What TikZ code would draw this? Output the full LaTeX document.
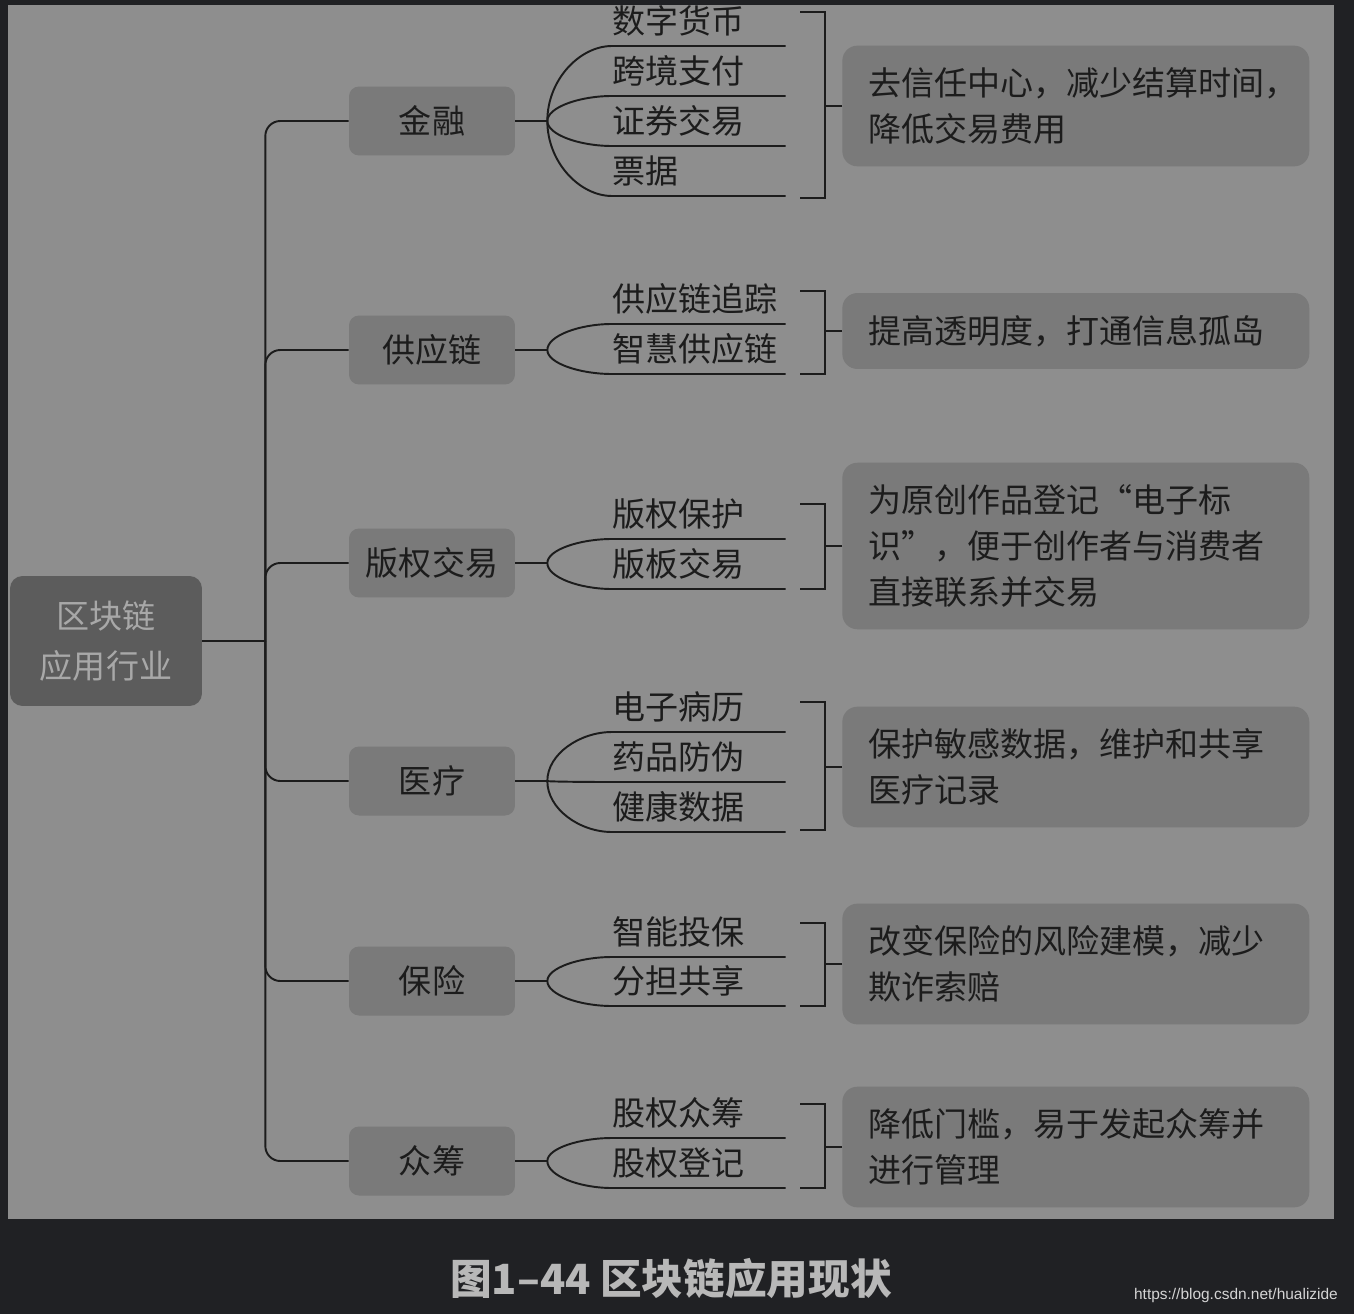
\documentclass[tikz,border=0pt]{standalone}
\usepackage{fontspec}
\setmainfont{Noto Sans CJK SC}
\newfontfamily\urlfont{Liberation Sans}
\usepackage{xcolor}
\usepackage{tikz}
\usetikzlibrary{calc}

\definecolor{pagebg}{HTML}{202124}
\definecolor{panelbg}{HTML}{8E8E8E}
\definecolor{boxfill}{HTML}{7A7A7A}
\definecolor{rootfill}{HTML}{5C5C5C}
\definecolor{roottext}{HTML}{A8A8A8}
\definecolor{ink}{HTML}{1C1C1C}
\definecolor{captext}{HTML}{B8B8B8}
\definecolor{urltext}{HTML}{D4D4D4}

\newcommand{\cnfont}{\fontsize{18.8pt}{26pt}\selectfont}

\tikzset{
  link/.style={draw=ink, line width=1.1pt},
  cat/.style={fill=boxfill, rounded corners=0.2cm, minimum width=3.32cm,
    minimum height=1.38cm, text=ink, font=\cnfont},
  leaf/.style={anchor=south west, inner xsep=0pt, inner ysep=5.5pt,
    text width=3.46cm, text=ink, font=\cnfont},
  desc/.style={anchor=west, fill=boxfill, rounded corners=0.3cm, align=left,
    text width=8.3cm, inner xsep=0.52cm, inner ysep=12.6pt, text=ink, font=\cnfont}
}

\begin{document}
\begin{tikzpicture}[x=0.02cm, y=-0.02cm]
        % page and panel
        \fill[pagebg] (0,0) rectangle (1354,1314);
        \useasboundingbox (0,0) rectangle (1354,1314);
        \fill[panelbg] (8,5) rectangle (1334,1219);

        % root and trunk
        \node[fill=rootfill, rounded corners=0.25cm, minimum width=3.84cm, minimum height=2.6cm,
          align=center, text=roottext, font=\fontsize{18.8pt}{28.5pt}\selectfont]
          (root) at (106,641) {区块链\\应用行业};
        \coordinate (hub) at ([xshift=1.26cm]root.east);
        \draw[link] (root) -- (hub);

        % industries
        \node[cat] (jr) at (432,121) {金融};
        \node[cat] (gy) at (432,350) {供应链};
        \node[cat] (bq) at (432,563) {版权交易};
        \node[cat] (yl) at (432,781) {医疗};
        \node[cat] (bx) at (432,981) {保险};
        \node[cat] (zc) at (432,1161) {众筹};
        \foreach \c in {jr,gy,bq,yl,bx,zc} {
            \draw[link, rounded corners=0.3cm] (hub) |- (\c.west);
            \coordinate (\c f) at ([xshift=0.64cm]\c.east);
            \draw[link] (\c.east) -- (\c f);
        }

        % leaves
        \foreach \t [count=\i] in {数字货币,跨境支付,证券交易,票据}
            \node[leaf] (jr\i) at (612,{46+50*(\i-1)}) {\t};
        \foreach \t [count=\i] in {供应链追踪,智慧供应链}
            \node[leaf] (gy\i) at (612,{324+50*(\i-1)}) {\t};
        \foreach \t [count=\i] in {版权保护,版板交易}
            \node[leaf] (bq\i) at (612,{539+50*(\i-1)}) {\t};
        \foreach \t [count=\i] in {电子病历,药品防伪,健康数据}
            \node[leaf] (yl\i) at (612,{732+50*(\i-1)}) {\t};
        \foreach \t [count=\i] in {智能投保,分担共享}
            \node[leaf] (bx\i) at (612,{957+49*(\i-1)}) {\t};
        \foreach \t [count=\i] in {股权众筹,股权登记}
            \node[leaf] (zc\i) at (612,{1138+50*(\i-1)}) {\t};
        \foreach \c/\n in {jr/4,gy/2,bq/2,yl/3,bx/2,zc/2} {
            \foreach \i in {1,...,\n}
                \draw[link] (\c f) .. controls ($(\c f)!0.55!(\c f |- \c\i.south west)$)
                  and ($(\c\i.south west)!0.5!(\c f |- \c\i.south west)$) .. (\c\i.south west)
                  -- (\c\i.south east);
        }

        % descriptions
        \node[desc] (jrd) at (842,106) {去信任中心，减少结算时间，\\降低交易费用};
        \node[desc] (gyd) at (842,331) {提高透明度，打通信息孤岛};
        \node[desc] (bqd) at (842,546) {为原创作品登记“电子标\\识”，便于创作者与消费者\\直接联系并交易};
        \node[desc] (yld) at (842,767) {保护敏感数据，维护和共享\\医疗记录};
        \node[desc] (bxd) at (842,964) {改变保险的风险建模，减少\\欺诈索赔};
        \node[desc] (zcd) at (842,1147) {降低门槛，易于发起众筹并\\进行管理};

        % brackets
        \foreach \c/\top/\bot in {jr/12/198,gy/291/374,bq/504/589,yl/702/830,bx/923/1006,zc/1104/1188} {
            \draw[link] (800,\top) -| (825,\bot) -- (800,\bot);
            \draw[link] (\c d.west) -- ++(-17,0);
        }

        % caption
        \node[text=captext, font=\fontsize{23.7pt}{28pt}\selectfont\bfseries] (cap) at (671,1279) {图1–44 区块链应用现状};
        \node[anchor=east, text=urltext, font=\urlfont\fontsize{8.8pt}{10pt}\selectfont] (url) at (1344,1295) {https://blog.csdn.net/hualizide};
    \end{tikzpicture}
\end{document}
